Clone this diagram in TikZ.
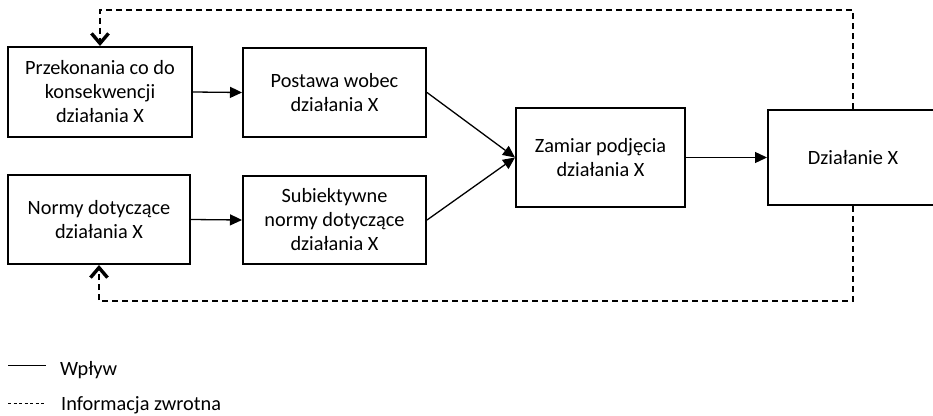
\documentclass[tikz,border=0pt]{standalone}
\usepackage{fontspec}
\setmainfont{Carlito}
\usetikzlibrary{arrows.meta}
\begin{document}
\begin{tikzpicture}[x=1pt,y=-1pt,
  box/.style={draw,line width=2pt,align=center,inner sep=0pt,
    font=\fontsize{20.3}{24}\selectfont},
  influence/.style={line width=1.3pt,-{Triangle[length=12pt,width=11pt]}},
  feedback/.style={line width=1.5pt,dash pattern=on 6pt off 4pt,
    -{Straight Barb[length=10pt,width=17pt,line width=3.4pt]}},
  legendtext/.style={anchor=base west,inner sep=0pt,font=\fontsize{20.3}{24}\selectfont}]
\clip (0,0) rectangle (933,415);

% process boxes
\node[box,minimum width=184pt,minimum height=90pt] (przek) at (100,92) {Przekonania co do\\konsekwencji\\działania X};
\node[box,minimum width=183pt,minimum height=89pt] (postawa) at (334.5,92.5) {Postawa wobec\\działania X};
\node[box,minimum width=182pt,minimum height=89pt] (normy) at (99,219.5) {Normy dotyczące\\działania X};
\node[box,minimum width=183pt,minimum height=88pt] (subiekt) at (334.5,220) {Subiektywne\\normy dotyczące\\działania X};
\node[box,minimum width=169pt,minimum height=99pt] (zamiar) at (600.5,157.5) {Zamiar podjęcia\\działania X};
\node[box,minimum width=170pt,minimum height=95pt] (dzial) at (853,157.5) {Działanie X};

% influence arrows
\draw[influence] (przek.east) -- (postawa.west);
\draw[influence] (normy.east) -- (subiekt.west);
\draw[influence] (postawa.east) -- (zamiar.west);
\draw[influence] (subiekt.east) -- (zamiar.west);
\draw[influence] (zamiar.east) -- (dzial.west);

% feedback loops
\draw[feedback] (dzial.north) -- ++(0,-99) -| (przek.north);
\draw[feedback] (dzial.south) -- ++(0,95) -| (normy.south);

% legend
\coordinate (l1a) at (8,365.5);
\coordinate (l1b) at (46,365.5);
\coordinate (l2a) at (8,403);
\coordinate (l2b) at (46,403);
\draw[line width=1pt] (l1a) -- (l1b);
\draw[line width=0.8pt,dash pattern=on 3pt off 2.5pt] (l2a) -- (l2b);
\node[legendtext] (lwpl) at (60,375) {Wpływ};
\node[legendtext] (linf) at (61,410) {Informacja zwrotna};
\end{tikzpicture}
\end{document}
